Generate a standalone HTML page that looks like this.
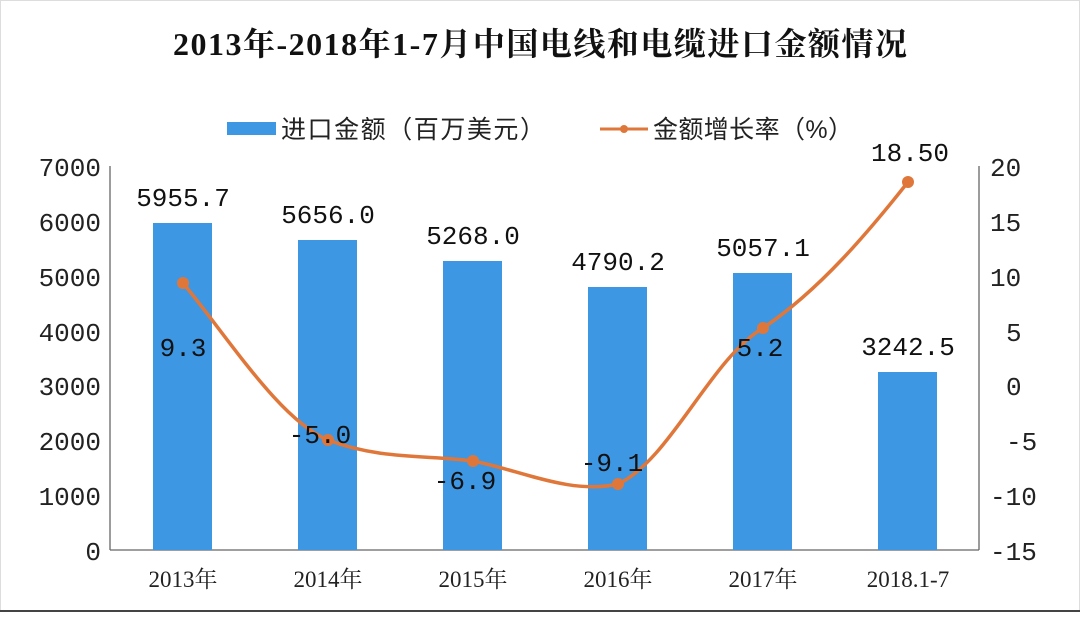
<!DOCTYPE html>
<html><head><meta charset="utf-8"><style>
html,body{margin:0;padding:0;background:#fff;}
body{width:1080px;height:613px;overflow:hidden;}
</style></head><body>
<svg width="1080" height="613" xmlns="http://www.w3.org/2000/svg" font-family="'Liberation Mono','Noto Sans CJK SC',monospace">
<rect x="0.5" y="0.5" width="1079" height="611" fill="#fff" stroke="#ddd"/>
<line x1="0" y1="611" x2="1080" y2="611" stroke="#444" stroke-width="2"/>
<text x="540" y="55" text-anchor="middle" font-family="'Liberation Serif','Noto Serif CJK SC',serif" font-weight="bold" font-size="32" fill="#111" textLength="734">2013年-2018年1-7月中国电线和电缆进口金额情况</text>
<rect x="227" y="122" width="49" height="13" fill="#3d97e3"/>
<text x="281" y="138" font-size="25" fill="#222" font-family="'Liberation Sans','Noto Sans CJK SC',sans-serif" textLength="264">进口金额（百万美元）</text>
<line x1="600" y1="129" x2="648" y2="129" stroke="#e0773a" stroke-width="3"/>
<circle cx="624" cy="129" r="4" fill="#e0773a"/>
<text x="653" y="138" font-size="25" fill="#222" font-family="'Liberation Sans','Noto Sans CJK SC',sans-serif" textLength="200">金额增长率（%）</text>
<g stroke="#666" stroke-width="1.3">
<line x1="110" y1="166" x2="110" y2="550"/>
<line x1="979" y1="166" x2="979" y2="550"/>
<line x1="110" y1="550" x2="979" y2="550"/>
</g>
<g font-size="26" fill="#222" text-anchor="end">
<text x="101" y="560">0</text><text x="101" y="505">1000</text><text x="101" y="450">2000</text><text x="101" y="395">3000</text><text x="101" y="341">4000</text><text x="101" y="286">5000</text><text x="101" y="231">6000</text><text x="101" y="176">7000</text>
</g>
<g font-size="26" fill="#222">
<text x="990" y="560">-15</text><text x="990" y="505">-10</text><text x="1006" y="450">-5</text><text x="1006" y="395">0</text><text x="1006" y="341">5</text><text x="990" y="286">10</text><text x="990" y="231">15</text><text x="990" y="176">20</text>
</g>
<g fill="#3d97e3">
<rect x="153" y="223" width="59" height="327"/>
<rect x="298" y="240" width="59" height="310"/>
<rect x="443" y="261" width="59" height="289"/>
<rect x="588" y="287" width="59" height="263"/>
<rect x="733" y="273" width="59" height="277"/>
<rect x="878" y="372" width="59" height="178"/>
</g>
<g font-size="26" fill="#111" text-anchor="middle">
<text x="183" y="206">5955.7</text><text x="328" y="223">5656.0</text><text x="473" y="244">5268.0</text><text x="618" y="270">4790.2</text><text x="763" y="256">5057.1</text><text x="908" y="355">3242.5</text>
<text x="910" y="161">18.50</text>
</g>
<path d="M183,283 C230,340 280,420 328,440 C380,460 430,455 473,461 C520,470 570,495 618,484 C670,460 710,360 763,328 C820,290 870,230 908,182" fill="none" stroke="#e0773a" stroke-width="3.5"/>
<g fill="#e0773a">
<circle cx="183" cy="283" r="6"/><circle cx="328" cy="440" r="6"/><circle cx="473" cy="461" r="6"/><circle cx="618" cy="484" r="6"/><circle cx="763" cy="328" r="6"/><circle cx="908" cy="182" r="6"/>
</g>
<g font-size="26" fill="#111" text-anchor="middle">
<text x="183" y="356">9.3</text><text x="320" y="443">-5.0</text><text x="465" y="489">-6.9</text><text x="612" y="471">-9.1</text><text x="760" y="356">5.2</text>
</g>
<g font-size="23" fill="#222" text-anchor="middle" font-family="'Liberation Serif','Noto Serif CJK SC',serif">
<text x="183" y="587">2013年</text><text x="328" y="587">2014年</text><text x="473" y="587">2015年</text><text x="618" y="587">2016年</text><text x="763" y="587">2017年</text><text x="908" y="587">2018.1-7</text>
</g>
</svg>
</body></html>
